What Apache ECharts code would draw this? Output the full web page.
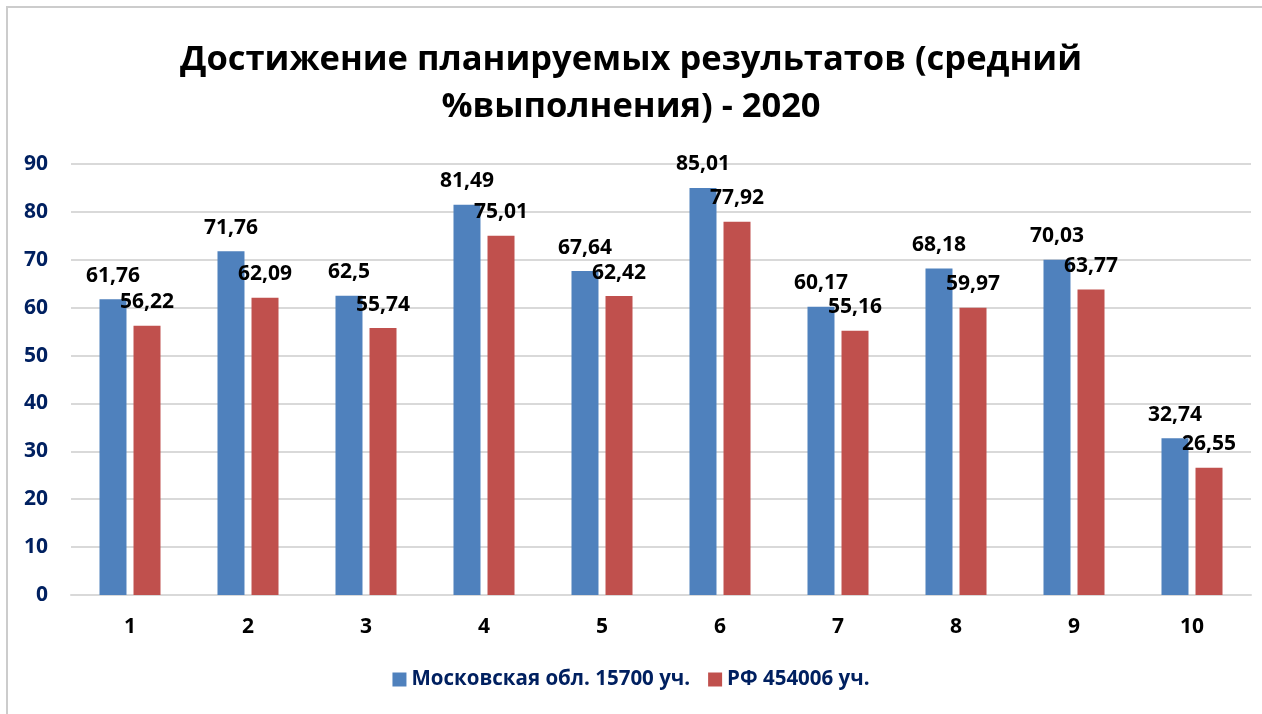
<!DOCTYPE html>
<html>
<head>
<meta charset="utf-8">
<script src="https://cdn.jsdelivr.net/npm/echarts@6/dist/echarts.min.js"></script>
<style>
html,body{margin:0;padding:0;background:#fff;}
#wrap{position:absolute;left:0;top:0;width:1262px;height:714px;}
#frame{position:absolute;left:6px;top:6px;width:1262px;height:714px;border-left:2px solid #cccccc;border-top:2px solid #cccccc;box-sizing:border-box;pointer-events:none;}
#chart{position:absolute;left:0;top:0;width:1262px;height:714px;}
</style>
</head>
<body>
<div id="wrap"><div id="chart"></div><div id="frame"></div></div>
<script>
const categories = ['1','2','3','4','5','6','7','8','9','10'];
const moscowValues = [61.76, 71.76, 62.5, 81.49, 67.64, 85.01, 60.17, 68.18, 70.03, 32.74];
const rfValues = [56.22, 62.09, 55.74, 75.01, 62.42, 77.92, 55.16, 59.97, 63.77, 26.55];
const seriesNames = ['Московская обл. 15700 уч.', 'РФ 454006 уч.'];
const titleText = 'Достижение планируемых результатов (средний\n%выполнения) - 2020';

const fontFam = '"Open Sans", "Liberation Sans", sans-serif';
const chart = echarts.init(document.getElementById('chart'), null, {renderer:'canvas'});
const labelFmt = p => String(p.value).replace('.', ',');
chart.setOption({
  animation:false,
  backgroundColor:'#ffffff',
  title:{
    text:titleText, left:'center', top:32,
    textStyle:{fontFamily:fontFam, fontSize:34.5, fontWeight:'bold', color:'#000', lineHeight:47}
  },
  legend:{
    bottom:19, left:'center', itemWidth:14, itemHeight:14, itemGap:18,
    icon:'rect',
    textStyle:{fontFamily:fontFam, fontSize:20.5, fontWeight:'bold', color:'#002060'},
    data:seriesNames
  },
  grid:{left:71, right:11, top:164, bottom:119},
  xAxis:{
    type:'category', data:categories,
    axisLine:{show:true, lineStyle:{color:'#d9d9d9', width:2}},
    axisTick:{show:false},
    axisLabel:{fontFamily:fontFam, fontSize:21, fontWeight:'bold', color:'#000', margin:22}
  },
  yAxis:{
    type:'value', min:0, max:90, interval:10,
    axisLine:{show:false}, axisTick:{show:false},
    splitLine:{lineStyle:{color:'#d9d9d9', width:2}},
    axisLabel:{fontFamily:fontFam, fontSize:21, fontWeight:'bold', color:'#002060', margin:23}
  },
  series:[
    {
      name:seriesNames[0], type:'bar', data:moscowValues, barWidth:27, barGap:'26%',
      itemStyle:{color:'#4F81BD'},
      label:{show:true, position:'top', distance:13, formatter:labelFmt,
        fontFamily:fontFam, fontSize:21, fontWeight:'bold', color:'#000'}
    },
    {
      name:seriesNames[1], type:'bar', data:rfValues, barWidth:27,
      itemStyle:{color:'#C0504D'},
      label:{show:true, position:'top', distance:13, formatter:labelFmt,
        fontFamily:fontFam, fontSize:21, fontWeight:'bold', color:'#000'}
    }
  ]
});
</script>
</body>
</html>
